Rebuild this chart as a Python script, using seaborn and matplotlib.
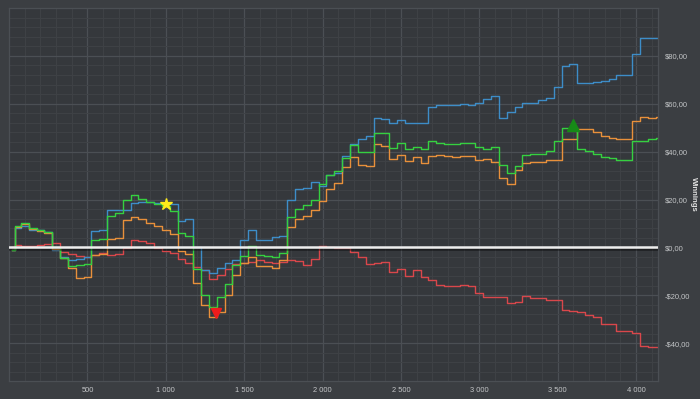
import numpy as np
import pandas as pd
import matplotlib
matplotlib.use('Agg')
import matplotlib.pyplot as plt
import matplotlib.patheffects as pe
from matplotlib.ticker import MultipleLocator, FuncFormatter
import seaborn as sns

# --- dados (maos x ganhos) ---
hands = [20] + list(range(50, 4151, 50))

green = [-1, 8.8, 10.2, 8.1, 7.1, 6.3, 0, -4.5, -7.7, -7.3, -6.8, 2.9, 3.5, 13.3, 14.4,
         19.7, 21.9, 20.3, 18.9, 18.2, 17.2, 15.1, 6.0, 4.9, -9, -20, -24.9, -20.7, -15.1,
         -7.4, -3.5, 0.5, -3.1, -3.5, -4, -2.4, 12.7, 16, 17.9, 20, 26.3, 30.2, 31.8, 37.4,
         42.6, 40, 39.8, 47.9, 47.6, 41.6, 43.7, 41.2, 42, 40.9, 44.4, 43.7, 43.3, 43, 43.7,
         43.7, 42, 41.2, 42, 34.6, 31.1, 33.9, 38.8, 39.2, 39.2, 40.2, 44.4, 50, 50, 40.9,
         40.2, 39.2, 37.8, 37.4, 36.5, 36.5, 44.4, 44.4, 45.1, 45.8]

blue = [-1, 8.1, 8.8, 7.4, 7.1, 6.3, -1, -3.8, -5.2, -4.9, -4, 6.7, 7.1, 15.8, 15.5,
        15.8, 18.6, 18.9, 18.9, 18.6, 18.6, 18.3, 11.2, 11.9, 0, -9.4, -10.8, -8.7, -6.6,
        -5.2, 3.2, 7.4, 3.2, 3.2, 4.3, 4.6, 20, 24.4, 24.9, 27.2, 25.6, 30.4, 30.9, 38.1,
        43, 45.1, 46.5, 54.2, 53.8, 52.1, 53.2, 52.1, 51.8, 52.1, 58.8, 59.4, 59.5, 59.6,
        59.8, 59.6, 60.2, 61.9, 63.3, 54.2, 56.6, 58.8, 60.2, 60.2, 61.6, 62.6, 66.8, 75.6,
        76.5, 68.6, 68.6, 68.9, 69.6, 70.3, 71.9, 71.9, 80.7, 87.3, 87.4, 87.3]

orange = [-1, 8.5, 9.9, 7.8, 6.8, 6, -0.5, -4.5, -8.5, -12.8, -12.2, -3.1, -2.7, 3.5, 3.9,
          11.6, 12.7, 11.9, 10.2, 9.1, 7.4, 5.7, -1.3, -2.7, -15, -24, -28.9, -26.8, -19.8,
          -11.5, -6.6, -3.8, -7.7, -7.7, -8.7, -5.4, 8.5, 11.9, 13, 15.8, 19.3, 24.4, 27,
          33.7, 37.8, 34.6, 34.2, 43, 42.3, 37, 38.8, 36, 37.8, 35.3, 38.1, 38.4, 38.1, 37.8,
          38.1, 38.1, 36.7, 37, 35.6, 29, 26.3, 32.5, 35.3, 35.6, 35.6, 36.5, 36.7, 45.1,
          45.4, 49.6, 49.3, 48.2, 46.5, 45.8, 45.4, 45.4, 52.8, 54.6, 54.2, 54.6]

red = [0, 1.1, 0.4, 0.7, 1.1, 1.5, 1.8, -2.1, -2.7, -3.5, -3.8, -3.1, -2.4, -3.1, -2.7,
       -0.3, 3.2, 2.5, 1.8, -0.3, -1.3, -2.4, -4.9, -6.6, -8, -9.4, -13, -11.5, -9.1,
       -6.8, -6.3, -6, -5.4, -5.9, -6.6, -5.9, -5.4, -5.6, -7.3, -4.9, 0.4, 0.1, -0.3,
       -0.3, -1.7, -4.1, -6.8, -6.3, -5.9, -10.1, -9.1, -11.9, -9.6, -12.2, -13.5, -15.6,
       -16.1, -16.3, -15.6, -16.3, -19.1, -20.8, -20.9, -20.5, -23.3, -22.6, -20.1, -21.1,
       -21.1, -21.9, -21.9, -26.1, -26.4, -26.8, -28.2, -28.9, -32, -32, -34.8, -34.8,
       -35.9, -41.2, -41.5, -41.5]

# marcadores: melhor ponto, pior ponto, pico final
star_pt = (1000, 18.2)
low_pt = (1322, -27.5)
high_pt = (3600, 51.2)

series = {'red': red, 'blue': blue, 'orange': orange, 'green': green}
cores = {'red': '#d9474b', 'blue': '#3d8dc8', 'orange': '#e8903b', 'green': '#35d040'}

df = pd.concat([pd.DataFrame({'hands': hands, 'winnings': v, 'serie': k})
                for k, v in series.items()], ignore_index=True)

bg_fig = '#3b3e42'
bg_ax = '#35383c'
txt = '#c4c6c8'

plt.rcParams['font.family'] = ['Liberation Sans', 'DejaVu Sans']

fig = plt.figure(figsize=(7, 3.99), dpi=100, facecolor=bg_fig)
ax = fig.add_axes([0.013, 0.045, 0.927, 0.935])
ax.set_facecolor(bg_ax)

sns.lineplot(data=df, x='hands', y='winnings', hue='serie', hue_order=list(series),
             palette=cores, estimator=None, sort=False, legend=False,
             drawstyle='steps-mid', linewidth=1.0, ax=ax)

# linha do zero
ax.axhline(0, color='#eeeeee', lw=1.8, zorder=5,
           path_effects=[pe.SimpleLineShadow(offset=(0, -1), shadow_color='black', alpha=0.45),
                         pe.Normal()])

ax.plot(*star_pt, marker='*', color='#ffec1a', markersize=9, zorder=6)
ax.plot(*low_pt, marker='v', color='#ee1c1c', markersize=7, zorder=6)
ax.plot(*high_pt, marker='^', color='#178a17', markersize=8, zorder=6)

ax.set_xlim(0, 4140)
ax.set_ylim(-55.8, 100)
ax.set_xticks(range(500, 4001, 500))
ax.set_yticks(range(-40, 81, 20))
ax.xaxis.set_minor_locator(MultipleLocator(100))
ax.yaxis.set_minor_locator(MultipleLocator(4))
ax.xaxis.set_major_formatter(FuncFormatter(lambda v, p: f'{int(v):,}'.replace(',', ' ')))
ax.yaxis.set_major_formatter(FuncFormatter(
    lambda v, p: ('-' if v < 0 else '') + '$' + f'{abs(v):.2f}'.replace('.', ',')))

ax.grid(which='major', color='#4b4f54', lw=0.9)
ax.grid(which='minor', color='#3f4246', lw=0.7)
ax.set_axisbelow(True)

ax.yaxis.tick_right()
ax.yaxis.set_label_position('right')
ax.tick_params(which='both', length=0, colors=txt, labelsize=5.4)
ax.tick_params(axis='y', pad=5)
ax.tick_params(axis='x', pad=4)
ax.set_xlabel('')
ax.set_ylabel('Winnings', rotation=270, color='#e0e0e0', fontsize=5.6,
              fontweight='bold', va='center')
ax.yaxis.set_label_coords(1.054, 0.5)

for s in ax.spines.values():
    s.set_color('#4b4f54')
    s.set_linewidth(0.9)

fig.savefig('out.png', dpi=100, facecolor=bg_fig)
